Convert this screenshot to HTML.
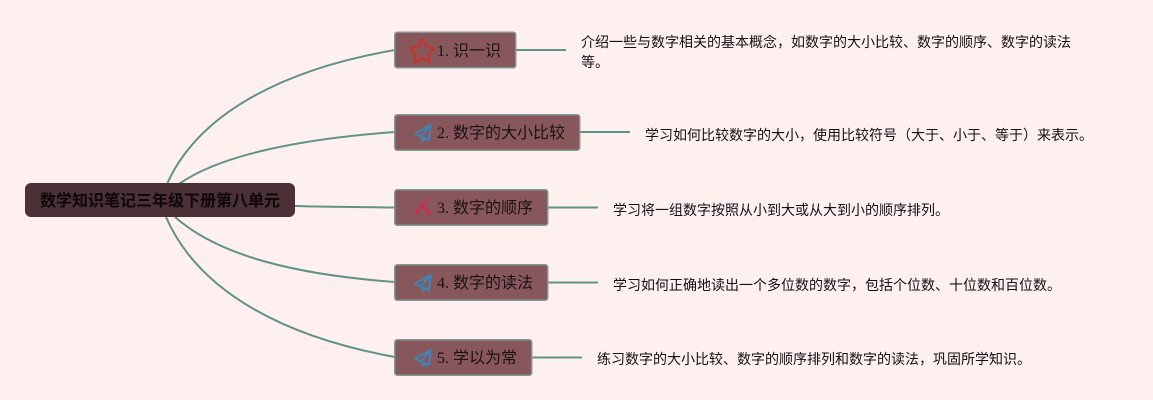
<!DOCTYPE html>
<html><head><meta charset="utf-8">
<style>
html,body{margin:0;padding:0;background:#fff0f0;}
#c{position:relative;width:1153px;height:400px;overflow:hidden;background:#fff0f0;font-family:"Liberation Serif","Noto Sans CJK SC",serif;color:#111;}
svg{position:absolute;left:0;top:0;}
.t{position:absolute;left:437px;font-size:16px;line-height:33px;color:#1a1214;white-space:nowrap;}
.d{position:absolute;font-size:14px;line-height:20px;color:#111;white-space:nowrap;}
.r{position:absolute;left:25px;top:183px;width:270px;height:34px;background:#4b3035;border-radius:6px;font-size:16px;font-weight:bold;line-height:37px;text-align:center;color:#0c0809;white-space:nowrap;}
</style></head><body>
<div id="c">
<svg width="1153" height="400" viewBox="0 0 1153 400" fill="none">
<g stroke="#5f9484" stroke-width="2">
<path d="M167 184C200 110 290 68 395 50"/>
<path d="M179 184C220 155 300 139 395 132"/>
<path d="M295 206C330 207 360 207 395 207.500"/>
<path d="M175 217C220 257 300 275 395 282"/>
<path d="M166 217C200 295 290 338 395 357"/>
<path d="M516 50H566"/>
<path d="M580 132H630"/>
<path d="M548 207.500H598"/>
<path d="M548 282.500H598"/>
<path d="M532 357.500H582"/>
</g>
</svg>
<div class="r">数学知识笔记三年级下册第八单元</div>

<svg width="1153" height="400" viewBox="0 0 1153 400" fill="none">
<g fill="#87575c" stroke="#7f9a94" stroke-width="1.500">
<rect x="394.750" y="32.250" width="121" height="35.500" rx="2.500"/>
<rect x="394.750" y="114.750" width="185" height="35.500" rx="2.500"/>
<rect x="394.750" y="189.750" width="153" height="35.500" rx="2.500"/>
<rect x="394.750" y="264.750" width="153" height="35.500" rx="2.500"/>
<rect x="394.750" y="339.750" width="137" height="35.500" rx="2.500"/>
</g>
<path d="M422 39L426 46.500L434 48L428.500 54L429.500 62L422 58.500L414.500 62L415.500 54L410.500 48L418 46.500Z" stroke="#c2352f" stroke-width="2.400" stroke-linejoin="round"/>
<g stroke="#3d84b8" stroke-width="2" stroke-linejoin="round">
<path d="M430.500 125L415 133.500L421 136.500L429 140Z"/>
<path d="M430.500 125L421 136.500L423 141L426 138.500"/>
<path d="M430.500 275L415 283.500L421 286.500L429 290Z"/>
<path d="M430.500 275L421 286.500L423 291L426 288.500"/>
<path d="M430.500 350L415 358.500L421 361.500L429 365Z"/>
<path d="M430.500 350L421 361.500L423 366L426 363.500"/>
</g>
<path d="M421 203L430 215" stroke="#d42a52" stroke-width="2.500"/>
<circle cx="426" cy="201" r="1.800" fill="#d42a52"/>
<circle cx="417" cy="212" r="2.200" fill="#d42a52"/>
<path d="M417 212L423 205" stroke="#d42a52" stroke-width="1.500"/>
</svg>

<div class="t" style="top:35px;">1. 识一识</div>
<div class="t" style="top:117px;">2. 数字的大小比较</div>
<div class="t" style="top:192px;">3. 数字的顺序</div>
<div class="t" style="top:267px;">4. 数字的读法</div>
<div class="t" style="top:342px;">5. 学以为常</div>

<div class="d" style="left:581px;top:34px;">介绍一些与数字相关的基本概念，如数字的大小比较、数字的顺序、数字的读法<br>等。</div>
<div class="d" style="left:645px;top:127px;">学习如何比较数字的大小，使用比较符号（大于、小于、等于）来表示。</div>
<div class="d" style="left:613px;top:202px;">学习将一组数字按照从小到大或从大到小的顺序排列。</div>
<div class="d" style="left:613px;top:277px;">学习如何正确地读出一个多位数的数字，包括个位数、十位数和百位数。</div>
<div class="d" style="left:597px;top:351px;">练习数字的大小比较、数字的顺序排列和数字的读法，巩固所学知识。</div>
</div>
</body></html>
